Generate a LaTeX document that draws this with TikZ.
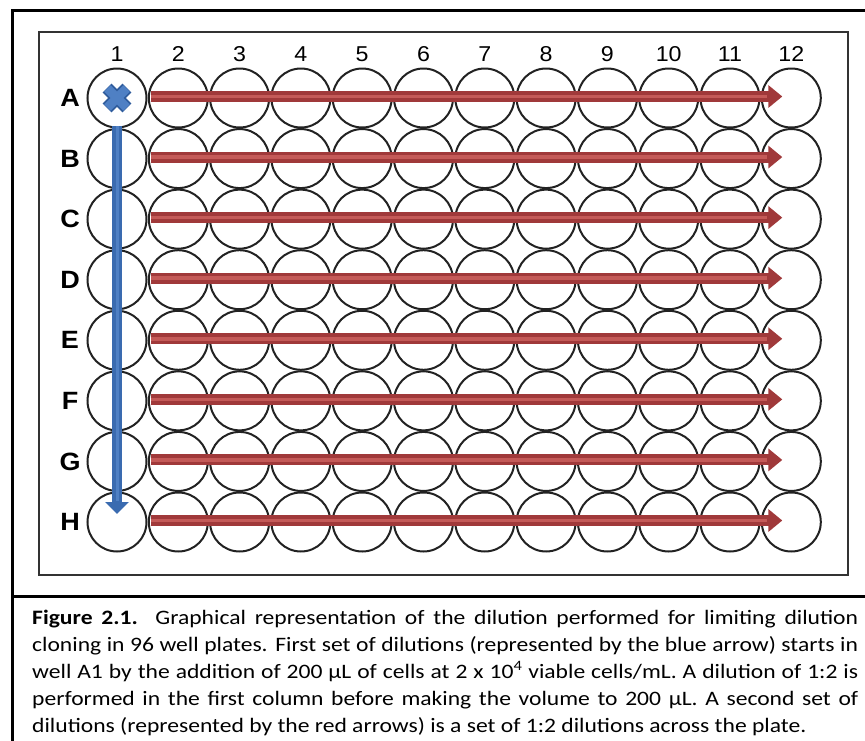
\documentclass[tikz,border=0pt]{standalone}
\usepackage{fontspec}
\setmainfont[FakeStretch=1.15]{Carlito}
\newfontfamily\platefont[FakeStretch=1.08]{Liberation Sans}
\usetikzlibrary{arrows.meta}

\definecolor{wellline}{HTML}{222222}
\definecolor{platebox}{HTML}{333333}
\definecolor{redarrow}{HTML}{A0393A}
\definecolor{redlight}{HTML}{C45A58}
\definecolor{bluearrow}{HTML}{3A6BB0}
\definecolor{bluelight}{HTML}{4F80C4}
\definecolor{bluedark}{HTML}{2F5C9C}

\tikzset{
  well/.style={circle, draw=wellline, line width=2pt, minimum size=59pt, inner sep=0pt},
  collabel/.style={font=\platefont\fontsize{21.5}{21.5}\selectfont, inner sep=0pt},
  rowlabel/.style={font=\platefont\bfseries\fontsize{25}{25}\selectfont, inner sep=0pt},
  redshaft/.style={redarrow, line width=11pt, -{Triangle[width=22pt,length=14pt]}},
  redstripe/.style={redlight, line width=3.5pt},
  blueshaft/.style={bluearrow, line width=10pt, -{Triangle[width=23pt,length=12pt]}},
  bluestripe/.style={bluelight, line width=3pt},
  frameline/.style={line width=3pt, black},
}

\begin{document}
\begin{tikzpicture}[x=1pt, y=-1pt]
\useasboundingbox (0,0) rectangle (865,740);

% outer frame and caption separator
\draw[frameline] (866,10) -- (12,10) -- (12,741);
\draw[frameline] (12,596) -- (866,596);

% plate outline
\draw[platebox, line width=2pt] (39,32) rectangle (848,575);

% column numbers
\foreach \c in {1,...,12}
  \node[collabel] (col\c) at ({117+(\c-1)*61.3},54) {\c};

% wells and row letters
\foreach \R [count=\r from 0] in {A,B,C,D,E,F,G,H} {
  \node[rowlabel] (row\R) at (70,{98+\r*60.57}) {\R};
  \foreach \c in {1,...,12}
    \node[well] (w\R\c) at ({117+(\c-1)*61.3},{98+\r*60.57}) {};
}

% red dilution arrows across each row
\foreach \R in {A,B,C,D,E,F,G,H} {
  \coordinate (rs\R) at ([xshift=3pt,yshift=1.5pt]w\R2.west);
  \coordinate (re\R) at ([xshift=-9pt,yshift=1.5pt]w\R12.center);
  \draw[redshaft] (rs\R) -- (re\R);
  \draw[redstripe] (rs\R) -- ([xshift=-15pt]re\R);
}

% blue dilution arrow down the first column
\coordinate (bs) at ([yshift=2.5pt]wA1.south);
\coordinate (be) at ([yshift=8pt]wH1.center);
\draw[blueshaft] (bs) -- (be);
\draw[bluestripe] (bs) -- ([yshift=13pt]be);

% starting mark in well A1
\foreach \a in {45,135} {
  \draw[bluedark, line width=12.5pt] ([shift={(\a:14pt)}]wA1.center) -- ([shift={(\a+180:14pt)}]wA1.center);
}
\foreach \a in {45,135} {
  \draw[bluelight, line width=9pt] ([shift={(\a:13.5pt)}]wA1.center) -- ([shift={(\a+180:13.5pt)}]wA1.center);
}

% caption
\node[anchor=base west, inner sep=0pt, text width=826pt, align=justify,
      font=\fontsize{20.5}{27}\selectfont] (caption) at (32,624)
{\textbf{Figure 2.1.} Graphical representation of the dilution performed for limiting dilution\linebreak
cloning in 96 well plates. First set of dilutions (represented by the blue arrow) starts in\linebreak
well A1 by the addition of 200 µL of cells at 2 x 10\textsuperscript{4} viable cells/mL. A dilution of 1:2 is\linebreak
performed in the first column before making the volume to 200 µL. A second set of\linebreak
dilutions (represented by the red arrows) is a set of 1:2 dilutions across the plate.};
\end{tikzpicture}
\end{document}
